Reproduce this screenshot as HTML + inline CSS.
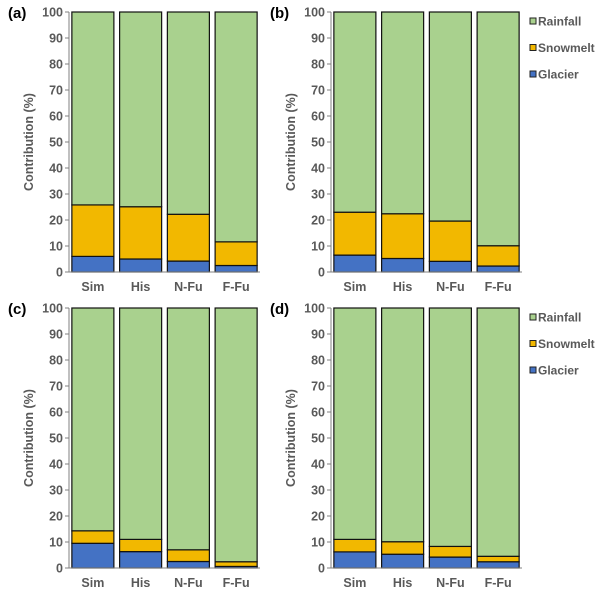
<!DOCTYPE html>
<html><head><meta charset="utf-8"><style>
body{margin:0;background:#fff;width:604px;height:589px;overflow:hidden}
svg{font-family:"Liberation Sans",Arial,sans-serif;font-weight:bold}
</style></head><body>
<svg id="c" width="604" height="589"></svg>
<script>
const categories=["Sim","His","N-Fu","F-Fu"];
const glacierA=[6,5,4.2,2.5];
const snowA=[19.8,20.1,18,9.1];
const glacierB=[6.5,5.2,4.1,2.3];
const snowB=[16.5,17.2,15.5,7.8];
const glacierC=[9.5,6.3,2.5,0.6];
const snowC=[4.8,4.7,4.5,1.8];
const glacierD=[6.2,5.3,4.2,2.4];
const snowD=[4.8,4.8,4.1,2.1];
const yTicks=[0,10,20,30,40,50,60,70,80,90,100];
const legendLabels=["Rainfall","Snowmelt","Glacier"];
const colors={Rainfall:"#a9d18e",Snowmelt:"#f2b800",Glacier:"#4472c4"};
const NS="http://www.w3.org/2000/svg";
const svg=document.getElementById('c');
function mk(t,a,p){const e=document.createElementNS(NS,t);for(const k in a)e.setAttribute(k,a[k]);(p||svg).appendChild(e);return e;}
const panels=[
 {id:"a",x0:69,x1:260,yT:12,yB:272,g:glacierA,s:snowA},
 {id:"b",x0:331,x1:522,yT:12,yB:272,g:glacierB,s:snowB},
 {id:"c",x0:69,x1:260,yT:308,yB:568,g:glacierC,s:snowC},
 {id:"d",x0:331,x1:522,yT:308,yB:568,g:glacierD,s:snowD}];
panels.forEach(p=>{
 const grp=mk('g',{});
 
 
 const y=v=>p.yB-(v/100)*(p.yB-p.yT);
 const step=(p.x1-p.x0)/categories.length, bw=step*0.88;
 categories.forEach((c,i)=>{
  const bx=p.x0+step*i+(step-bw)/2;
  const g=p.g[i], s=p.s[i];
  const segs=[["Glacier",0,g],["Snowmelt",g,g+s],["Rainfall",g+s,100]];
  segs.forEach(([n,a,b])=>{
   const r=mk('rect',{x:bx,y:y(b),width:bw,height:y(a)-y(b),fill:colors[n],stroke:"#111",'stroke-width':1.2},grp);
   
   
  });
  const t=mk('text',{x:bx+bw/2,y:p.yB+19,'text-anchor':'middle','font-size':12.5,fill:'#595959'},grp);
  t.textContent=c;
  
  
 });
 mk('line',{x1:p.x0,y1:p.yT,x2:p.x0,y2:p.yB,stroke:'#808080','stroke-width':1},grp);
 mk('line',{x1:p.x0,y1:p.yB,x2:p.x1,y2:p.yB,stroke:'#808080','stroke-width':1},grp);
 yTicks.forEach(v=>{
  mk('line',{x1:p.x0-4,y1:y(v),x2:p.x0,y2:y(v),stroke:'#808080'},grp);
  const t=mk('text',{x:p.x0-6,y:y(v)+4.5,'text-anchor':'end','font-size':12.5,fill:'#595959'},grp);
  t.textContent=v;
  
  
 });
 const yl=mk('text',{x:0,y:0,transform:`translate(${p.x0-36},${(p.yT+p.yB)/2}) rotate(-90)`,'text-anchor':'middle','font-size':12.5,fill:'#595959'},grp);
 yl.textContent="Contribution (%)";
 
 
 const pl=mk('text',{x:p.x0-61,y:p.yT+6,'font-size':15,fill:'#000'},grp);
 pl.textContent="("+p.id+")";
 
 
});
[18,314].forEach(off=>{
 legendLabels.forEach((n,i)=>{
  const yy=off+i*26.5;
  const r=mk('rect',{x:530,y:yy,width:6,height:6,fill:colors[n],stroke:'#222','stroke-width':1});
  
  
  const t=mk('text',{x:538,y:yy+7.5,'font-size':12,fill:'#595959'});
  t.textContent=n;
  
  
 });
});
</script>
</body></html>
